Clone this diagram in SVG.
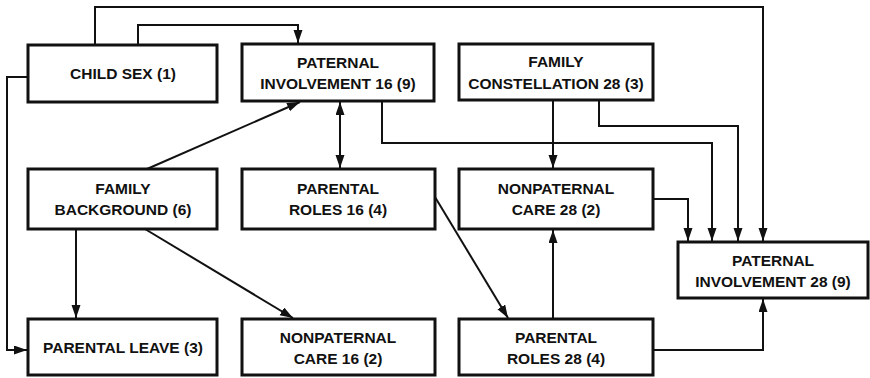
<svg xmlns="http://www.w3.org/2000/svg" width="870" height="378" viewBox="0 0 870 378">
<style>
.box{fill:#fff;stroke:#111;stroke-width:3}
.t{font-family:"Liberation Sans",Arial,sans-serif;font-weight:bold;font-size:15.5px;fill:#111;text-anchor:middle}
.c{fill:none;stroke:#111;stroke-width:2}
</style>
<defs>
<marker id="ah" markerUnits="userSpaceOnUse" markerWidth="14" markerHeight="10" refX="13" refY="4.5" orient="auto-start-reverse">
<path d="M0,0 L13,4.5 L0,9 z" fill="#111"/>
</marker>
</defs>
<rect width="870" height="378" fill="#fff"/>
<g id="connectors">
<path class="c" d="M95,45 V7 H763 V241" marker-end="url(#ah)"/>
<path class="c" d="M138,45 V25 H298 V43" marker-end="url(#ah)"/>
<path class="c" d="M28,77 H7 V350 H27" marker-end="url(#ah)"/>
<path class="c" d="M147,169 L300,102" marker-end="url(#ah)"/>
<path class="c" d="M340,102 V168" marker-start="url(#ah)" marker-end="url(#ah)"/>
<path class="c" d="M382,101 V143 H712 V241" marker-end="url(#ah)"/>
<path class="c" d="M553,100 V168" marker-end="url(#ah)"/>
<path class="c" d="M599,100 V126 H738 V241" marker-end="url(#ah)"/>
<path class="c" d="M653,199 H688 V241" marker-end="url(#ah)"/>
<path class="c" d="M435,197 L508,318" marker-end="url(#ah)"/>
<path class="c" d="M76,229 V318" marker-end="url(#ah)"/>
<path class="c" d="M145,229 L293,318" marker-end="url(#ah)"/>
<path class="c" d="M553,319 V230" marker-end="url(#ah)"/>
<path class="c" d="M653,350 H763 V299" marker-end="url(#ah)"/>
</g>
<g id="child-sex">
<rect class="box" x="28" y="45" width="189" height="57"/>
<text class="t" x="123" y="79">CHILD SEX (1)</text>
</g>
<g id="paternal-involvement-16">
<rect class="box" x="242" y="44" width="192" height="57"/>
<text class="t" x="338" y="68">PATERNAL</text>
<text class="t" x="338" y="89">INVOLVEMENT 16 (9)</text>
</g>
<g id="family-constellation">
<rect class="box" x="459" y="44" width="194" height="56"/>
<text class="t" x="556" y="67">FAMILY</text>
<text class="t" x="556" y="89">CONSTELLATION 28 (3)</text>
</g>
<g id="family-background">
<rect class="box" x="28" y="169" width="189" height="60"/>
<text class="t" x="123" y="194">FAMILY</text>
<text class="t" x="123" y="215">BACKGROUND (6)</text>
</g>
<g id="parental-roles-16">
<rect class="box" x="242" y="169" width="193" height="60"/>
<text class="t" x="338" y="194">PARENTAL</text>
<text class="t" x="338" y="215">ROLES 16 (4)</text>
</g>
<g id="nonpaternal-care-28">
<rect class="box" x="459" y="169" width="194" height="60"/>
<text class="t" x="556" y="194">NONPATERNAL</text>
<text class="t" x="556" y="215">CARE 28 (2)</text>
</g>
<g id="paternal-involvement-28">
<rect class="box" x="678" y="242" width="190" height="56"/>
<text class="t" x="773" y="266">PATERNAL</text>
<text class="t" x="773" y="287">INVOLVEMENT 28 (9)</text>
</g>
<g id="parental-leave">
<rect class="box" x="28" y="319" width="189" height="56"/>
<text class="t" x="123" y="353">PARENTAL LEAVE (3)</text>
</g>
<g id="nonpaternal-care-16">
<rect class="box" x="242" y="319" width="193" height="56"/>
<text class="t" x="338" y="343">NONPATERNAL</text>
<text class="t" x="338" y="364">CARE 16 (2)</text>
</g>
<g id="parental-roles-28">
<rect class="box" x="459" y="319" width="194" height="56"/>
<text class="t" x="556" y="343">PARENTAL</text>
<text class="t" x="556" y="364">ROLES 28 (4)</text>
</g>
</svg>
